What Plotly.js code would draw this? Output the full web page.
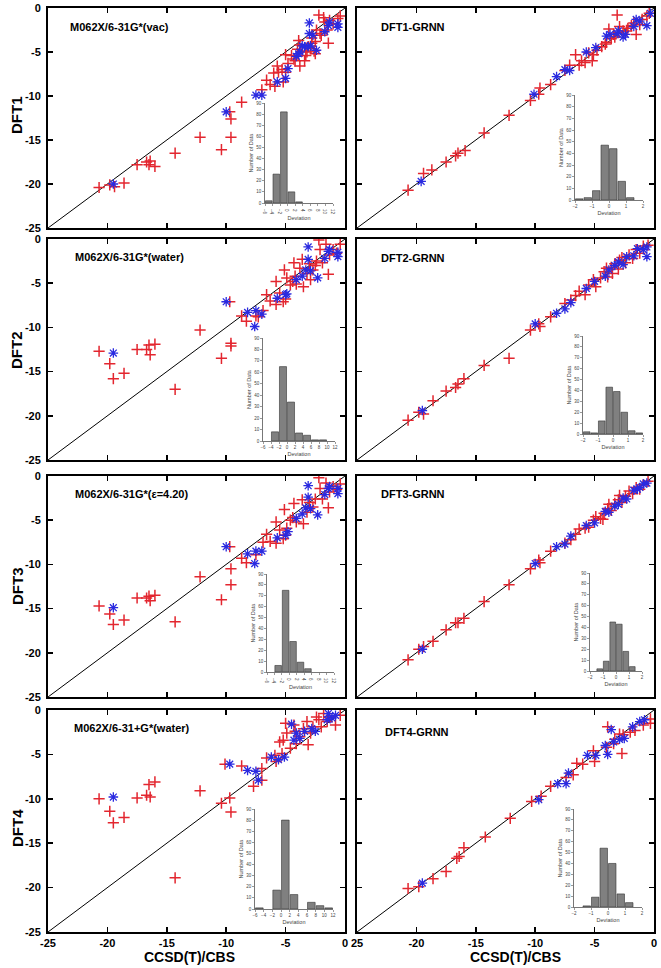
<!DOCTYPE html>
<html><head><meta charset="utf-8">
<script src="https://cdn.plot.ly/plotly-3.0.1.min.js"></script>
<style>html,body{margin:0;padding:0;background:#fff}#chart{width:661px;height:968px}</style>
</head><body><div id="chart"></div>
<script>
// ---------- DATA ----------
const DIAG = [-25, 0];
const MAIN_TICKS = [-25, -20, -15, -10, -5, 0];
const MAIN_TICKTEXT_BR = ['25', '-20', '-15', '-10', '-5', '0'];
const PANEL_LABELS = ['M062X/6-31G*(vac)', 'DFT1-GRNN', 'M062X/6-31G*(water)', 'DFT2-GRNN',
  'M062X/6-31G*(ε=4.20)', 'DFT3-GRNN', 'M062X/6-31+G*(water)', 'DFT4-GRNN'];
const ROW_LABELS = ['DFT1', 'DFT2', 'DFT3', 'DFT4'];
const X_TITLE = 'CCSD(T)/CBS';
const HIST_X_TITLE = 'Deviation';
const HIST_Y_TITLE = 'Number of Data';

// Panel 1: DFT1 (vac)
const p1RedX = [-20.7,-19.8,-19.4,-18.6,-17.5,-16.7,-16.5,-16.4,-16.0,-14.3,-12.2,-10.4,-9.7,-9.6,-9.6,-8.7,-7.0,-6.6,-6.3,-5.9,-6.0,-5.7,-5.6,-5.2,-5.0,-5.3,-5.0,-4.8,-4.5,-4.3,-4.2,-4.0,-3.8,-3.9,-3.8,-3.6,-3.4,-3.3,-3.2,-3.1,-2.8,-2.5,-2.2,-2.4,-2.1,-2.0,-1.8,-1.7,-1.5,-1.4,-1.3,-1.0,-0.6,-0.4,-2.6,-2.9,-2.8,-2.5];
const p1RedY = [-20.4,-20.1,-20.3,-19.9,-17.8,-17.5,-17.8,-17.4,-18.0,-16.5,-14.7,-16.1,-11.8,-12.6,-14.7,-10.7,-9.3,-8.2,-8.7,-8.9,-7.4,-6.6,-7.3,-8.4,-5.3,-7.0,-7.3,-6.3,-5.4,-5.8,-6.0,-4.7,-6.6,-3.7,-4.2,-4.9,-6.0,-5.4,-5.0,-4.4,-3.4,-3.8,-0.8,-2.5,-2.9,-3.1,-1.1,-1.6,-2.5,-4.0,-1.4,-1.8,-1.2,-0.9,-4.9,-4.6,-4.0,-5.2];
const p1BlueX = [-19.5,-10.0,-7.5,-7.0,-5.7,-5.0,-4.8,-4.1,-3.9,-3.8,-3.6,-3.4,-3.1,-2.9,-2.4,-3.0,-3.0,-2.7,-1.7,-1.4,-1.3,-0.6,-0.6];
const p1BlueY = [-20.0,-11.8,-9.9,-9.9,-8.4,-8.0,-6.9,-5.5,-5.2,-5.0,-4.3,-4.4,-4.4,-4.3,-4.8,-1.7,-2.9,-3.1,-2.7,-2.0,-1.6,-1.8,-2.2];
const h1X = [-5, -3, -1, 1, 3];
const h1Y = [2, 26, 82, 10, 1];

// Panel 2: DFT1-GRNN
const p2RedX = [-20.7,-19.4,-18.7,-17.5,-16.7,-16.5,-15.9,-14.3,-12.2,-10.4,-9.7,-9.6,-8.7,-7.5,-7.1,-6.3,-5.8,-6.1,-6.6,-5.2,-5.1,-5.5,-4.8,-4.4,-4.1,-3.8,-3.4,-3.1,-2.9,-2.6,-2.2,-1.5,-1.2,-1.0,-0.6,-0.4,-4.0,-3.6,-3.3,-3.0,-2.3,-1.9,-1.7];
const p2RedY = [-20.7,-18.8,-18.4,-17.5,-16.8,-16.5,-16.2,-14.2,-12.2,-10.5,-9.8,-9.1,-8.7,-7.1,-6.5,-6.5,-6.2,-6.0,-5.3,-6.0,-5.3,-5.1,-4.8,-4.4,-4.1,-2.4,-3.0,-0.8,-2.1,-2.6,-2.3,-3.0,-1.9,-1.3,-0.9,-0.6,-3.9,-3.5,-3.3,-2.8,-2.6,-2.0,-1.7];
const p2BlueX = [-19.6,-10.1,-8.2,-7.5,-7.1,-5.7,-4.9,-4.0,-3.7,-3.1,-3.0,-2.6,-2.4,-1.7,-1.5,-1.2,-0.6,-0.3];
const p2BlueY = [-19.7,-9.8,-7.8,-7.0,-7.1,-5.0,-4.5,-3.2,-3.0,-2.9,-2.6,-3.3,-3.0,-2.1,-1.3,-1.5,-2.0,-0.6];
const h2X = [-1.75, -1.25, -0.75, -0.25, 0.25, 0.75, 1.25];
const h2Y = [1, 2, 8, 47, 44, 16, 2];

// Panel 3: DFT2 (water)
const p3RedX = [-20.7,-19.8,-19.5,-18.6,-17.5,-16.7,-16.5,-16.4,-16.0,-14.3,-12.2,-10.4,-9.7,-9.6,-9.6,-8.7,-8.3,-7.5,-7.3,-6.9,-6.6,-6.3,-5.8,-5.8,-5.5,-5.2,-5.1,-5.0,-4.9,-4.6,-4.3,-4.2,-4.1,-3.8,-3.6,-3.5,-3.2,-2.9,-2.7,-2.4,-2.2,-2.1,-1.9,-1.6,-1.4,-1.3,-1.0,-0.7,-0.4,-4.4,-3.0,-2.5];
const p3RedY = [-12.7,-14.1,-15.8,-15.2,-12.5,-12.5,-12.0,-13.1,-11.9,-17.0,-10.3,-13.5,-7.1,-11.8,-12.1,-8.7,-9.3,-8.7,-8.8,-8.1,-6.3,-7.0,-7.4,-4.8,-6.1,-7.1,-3.5,-6.8,-4.4,-5.2,-2.7,-4.2,-5.1,-3.3,-2.3,-5.4,-3.9,-4.6,-3.5,-2.5,-0.1,-1.2,-2.7,-0.6,-4.0,-1.8,-1.2,-1.6,-0.6,-4.8,-2.8,-3.0];
const p3BlueX = [-19.5,-10.0,-8.2,-7.5,-7.0,-7.6,-5.7,-5.0,-4.9,-4.1,-3.6,-3.3,-3.1,-3.1,-2.9,-2.3,-1.7,-1.4,-1.3,-0.6,-0.6];
const p3BlueY = [-12.9,-7.1,-8.3,-8.1,-8.5,-9.9,-6.7,-6.3,-6.2,-4.6,-4.2,-3.5,-0.9,-2.3,-3.6,-4.4,-2.2,-1.4,-1.2,-1.5,-2.0];
const h3X = [-3, -1, 1, 3, 5, 7, 9];
const h3Y = [8, 65, 34, 7, 5, 1, 1];

// Panel 4: DFT2-GRNN
const p4RedX = [-20.7,-19.8,-19.4,-18.6,-17.5,-16.7,-16.5,-16.0,-14.3,-12.2,-10.4,-9.7,-9.6,-8.7,-7.5,-7.0,-6.6,-6.3,-5.8,-5.5,-5.1,-4.9,-4.5,-4.2,-3.9,-3.6,-3.3,-3.0,-2.7,-2.4,-2.1,-1.8,-1.5,-1.2,-0.9,-0.5,-3.5,-2.9,-4.0];
const p4RedY = [-20.5,-19.6,-19.8,-18.3,-17.2,-16.8,-16.4,-15.8,-14.3,-13.5,-10.3,-9.6,-9.9,-8.8,-7.3,-6.9,-6.4,-5.9,-6.3,-5.2,-4.6,-5.4,-4.4,-3.7,-4.3,-3.2,-2.8,-3.4,-2.1,-2.7,-1.8,-2.2,-1.2,-1.6,-0.8,-0.7,-3.9,-2.4,-3.3];
const p4BlueX = [-19.5,-10.0,-8.2,-7.5,-7.0,-5.7,-5.0,-4.1,-3.8,-3.3,-3.0,-2.6,-2.3,-1.7,-1.4,-0.9,-0.6,-0.6];
const p4BlueY = [-19.4,-9.6,-8.4,-7.9,-7.2,-5.6,-4.8,-4.2,-3.5,-3.0,-2.6,-2.9,-2.0,-1.9,-1.1,-1.2,-0.9,-2.0];
const h4X = [-1.75, -1.25, -0.75, -0.25, 0.25, 0.75, 1.25, 1.75];
const h4Y = [2, 1, 12, 43, 39, 20, 3, 1];

// Panel 5: DFT3 (eps=4.20)
const p5RedX = [-20.7,-19.8,-19.5,-18.6,-17.5,-16.7,-16.5,-16.4,-16.0,-14.3,-12.2,-10.4,-9.7,-9.6,-9.6,-8.7,-8.3,-7.5,-6.9,-6.6,-6.3,-5.8,-5.8,-5.5,-5.2,-5.1,-5.0,-4.9,-4.6,-4.3,-4.1,-3.6,-3.5,-3.2,-2.7,-2.2,-2.1,-1.6,-1.4,-1.3,-1.0,-0.7,-0.4,-2.5,-4.4,-3.0,-1.9];
const p5RedY = [-14.7,-15.6,-16.8,-16.3,-13.8,-13.8,-13.6,-14.1,-13.5,-16.5,-11.4,-14.0,-8.0,-10.5,-12.3,-9.3,-9.8,-8.9,-7.5,-6.6,-7.4,-7.6,-5.2,-6.1,-7.1,-3.8,-6.7,-5.9,-5.0,-3.1,-5.2,-2.7,-5.4,-4.1,-3.5,-0.2,-1.4,-0.8,-3.6,-1.8,-1.2,-1.5,-0.9,-2.6,-4.7,-3.0,-2.6];
const p5BlueX = [-19.5,-10.0,-8.2,-7.5,-7.0,-7.6,-5.7,-5.0,-4.8,-4.1,-3.6,-3.3,-3.1,-3.1,-2.9,-2.3,-1.7,-1.4,-1.3,-0.6,-0.6];
const p5BlueY = [-14.9,-8.0,-8.8,-8.5,-8.5,-9.9,-7.0,-6.7,-6.3,-4.8,-4.3,-3.6,-1.1,-2.4,-3.7,-4.4,-2.1,-1.4,-1.2,-1.4,-2.0];
const h5X = [-3, -1, 1, 3, 5];
const h5Y = [6, 75, 28, 9, 3];

// Panel 6: DFT3-GRNN
const p6RedX = [-20.7,-19.8,-19.4,-18.6,-17.5,-16.7,-16.5,-16.0,-14.3,-12.2,-10.4,-9.7,-9.6,-8.7,-7.5,-7.0,-6.6,-6.3,-5.8,-5.5,-5.1,-4.9,-4.5,-4.2,-3.9,-3.6,-3.3,-3.0,-2.7,-2.4,-2.1,-1.8,-1.5,-1.2,-0.9,-0.5,-2.9,-3.8,-4.3];
const p6RedY = [-20.8,-19.6,-19.3,-18.7,-17.4,-16.6,-16.6,-16.1,-14.2,-12.3,-10.5,-9.5,-9.8,-8.5,-7.6,-7.2,-6.6,-6.0,-5.9,-5.8,-5.0,-4.6,-4.8,-4.2,-3.7,-3.9,-3.1,-2.7,-3.0,-2.3,-1.7,-2.0,-1.3,-1.5,-1.0,-0.6,-2.2,-3.2,-4.9];
const p6BlueX = [-19.5,-10.0,-8.2,-7.5,-7.0,-5.7,-5.0,-4.1,-3.8,-3.3,-3.0,-2.6,-2.3,-1.7,-1.4,-0.9,-0.6,-1.2];
const p6BlueY = [-19.6,-9.9,-8.0,-7.7,-6.8,-5.6,-5.3,-4.0,-4.1,-3.4,-3.2,-2.5,-2.6,-1.6,-1.5,-0.9,-0.8,-1.3];
const h6X = [-1.25, -0.75, -0.25, 0.25, 0.75, 1.25];
const h6Y = [2, 9, 45, 43, 18, 4];

// Panel 7: DFT4 (6-31+G* water)
const p7RedX = [-20.7,-19.8,-19.5,-18.6,-17.5,-16.7,-16.5,-16.4,-16.0,-14.3,-12.2,-10.4,-10.1,-9.7,-9.6,-8.7,-7.7,-7.0,-7.0,-6.6,-5.9,-5.8,-5.5,-5.3,-5.2,-5.0,-4.9,-4.6,-4.3,-4.2,-4.1,-3.8,-3.5,-3.2,-3.1,-2.9,-2.7,-2.4,-2.2,-2.0,-1.8,-1.5,-1.3,-0.8,-0.4];
const p7RedY = [-10.0,-11.4,-12.7,-12.1,-9.9,-9.6,-8.4,-9.8,-8.1,-18.9,-9.1,-10.5,-6.1,-9.9,-11.5,-6.3,-8.6,-7.9,-6.6,-5.4,-5.1,-5.8,-3.6,-4.9,-3.4,-1.5,-2.6,-4.3,-1.7,-2.4,-3.8,-3.0,-2.1,-1.3,-3.9,-2.6,-1.9,-0.8,-1.1,-1.9,-0.4,-1.3,-0.8,-1.7,-0.6];
const p7BlueX = [-19.5,-9.7,-8.2,-7.5,-7.3,-6.2,-5.6,-5.1,-4.5,-4.1,-4.3,-3.8,-3.4,-2.8,-2.5,-1.5,-1.1,-0.8,-1.4];
const p7BlueY = [-9.8,-6.1,-6.8,-6.9,-7.9,-5.3,-5.6,-5.3,-1.6,-2.6,-3.4,-3.2,-2.4,-2.1,-2.4,-1.1,-0.9,-0.6,-0.4];
const h7X = [-5, -1, 1, 3, 7, 9, 11];
const h7Y = [1, 17, 80, 13, 6, 3, 1];

// Panel 8: DFT4-GRNN
const p8RedX = [-20.7,-19.8,-18.6,-17.5,-16.6,-16.4,-16.0,-14.2,-12.1,-10.3,-9.5,-8.7,-7.4,-6.8,-6.5,-6.0,-5.0,-5.1,-4.0,-3.4,-3.3,-2.7,-3.9,-2.9,-2.6,-2.0,-1.6,-0.9,-0.3,-0.3];
const p8RedY = [-20.1,-19.9,-19.0,-18.2,-16.7,-16.5,-15.5,-14.3,-12.2,-10.3,-9.7,-8.6,-7.6,-7.3,-6.0,-6.1,-5.8,-4.6,-4.2,-3.8,-3.3,-4.9,-1.9,-2.7,-2.8,-2.5,-2.3,-1.7,-1.5,-1.0];
const p8BlueX = [-19.5,-9.7,-8.1,-7.4,-7.2,-5.6,-4.9,-3.9,-3.6,-4.1,-3.4,-2.9,-2.5,-1.8,-1.2,-0.8];
const p8BlueY = [-19.5,-10.1,-8.3,-8.3,-7.1,-5.1,-5.1,-5.0,-2.2,-4.0,-3.6,-3.3,-3.2,-1.9,-1.3,-1.1];
const h8X = [-1.25, -0.75, -0.25, 0.25, 0.75, 1.25];
const h8Y = [1, 9, 54, 40, 12, 4];

// ---------- BUILD ----------
const W = 661, H = 968;
const RED = '#e3262f', BLUE = '#2a2ae0';
const fx = p => p / W, fy = p => 1 - p / H;
const ROWS = [[8,228],[239,460],[476,697],[710,932]];
const COLS = [[48,345],[357,654]];
const INSETS = [[265,333,103,203],[575,643,95,200],[263,335,338,441],[583,643,336,434],
                [267,334,574,672],[590,642,573,671],[255,333,809,909],[574,642,809,907]];
const LABEL_POS = [[68,27],[379,27],[73,257],[379,258],[73,494],[379,494],[72,728],[383,732]];

const panels = [
  {rx:p1RedX, ry:p1RedY, bx:p1BlueX, by:p1BlueY, hx:h1X, hy:h1Y, bw:2, hr:[-6,12], hd:2},
  {rx:p2RedX, ry:p2RedY, bx:p2BlueX, by:p2BlueY, hx:h2X, hy:h2Y, bw:0.5, hr:[-2,2], hd:1},
  {rx:p3RedX, ry:p3RedY, bx:p3BlueX, by:p3BlueY, hx:h3X, hy:h3Y, bw:2, hr:[-6,12], hd:2},
  {rx:p4RedX, ry:p4RedY, bx:p4BlueX, by:p4BlueY, hx:h4X, hy:h4Y, bw:0.5, hr:[-2,2], hd:1},
  {rx:p5RedX, ry:p5RedY, bx:p5BlueX, by:p5BlueY, hx:h5X, hy:h5Y, bw:2, hr:[-6,12], hd:2},
  {rx:p6RedX, ry:p6RedY, bx:p6BlueX, by:p6BlueY, hx:h6X, hy:h6Y, bw:0.5, hr:[-2,2], hd:1},
  {rx:p7RedX, ry:p7RedY, bx:p7BlueX, by:p7BlueY, hx:h7X, hy:h7Y, bw:2, hr:[-6,12], hd:2},
  {rx:p8RedX, ry:p8RedY, bx:p8BlueX, by:p8BlueY, hx:h8X, hy:h8Y, bw:0.5, hr:[-2,2], hd:1}
];

const FONT = 'Arial, "Liberation Sans", sans-serif';
const traces = [];
const layout = {
  width: W, height: H, margin: {l:0, r:0, t:0, b:0},
  paper_bgcolor: '#fff', plot_bgcolor: 'rgba(0,0,0,0)',
  showlegend: false, hovermode: false, annotations: [],
  font: {family: FONT, color: '#000'}
};

panels.forEach((p, i) => {
  const k = i + 1, ki = i + 9;
  const row = Math.floor(i / 2), col = i % 2;
  const xa = 'x' + (k === 1 ? '' : k), ya = 'y' + (k === 1 ? '' : k);
  const xi = 'x' + ki, yi = 'y' + ki;
  const mainAx = {
    range: [-25, 0], showline: true, linewidth: 2, linecolor: '#000', mirror: 'ticks',
    ticks: 'inside', ticklen: 5, tickwidth: 1.6, tickcolor: '#000',
    tickmode: 'array', tickvals: MAIN_TICKS, ticklabeloverflow: 'allow',
    tickfont: {family: FONT, size: 11, weight: 'bold', color: '#000'},
    showgrid: false, zeroline: false, fixedrange: true
  };
  layout['xaxis' + (k === 1 ? '' : k)] = Object.assign({}, mainAx, {
    domain: [fx(COLS[col][0]), fx(COLS[col][1])], anchor: ya,
    showticklabels: row === 3,
    ticktext: (row === 3 && col === 1) ? MAIN_TICKTEXT_BR : MAIN_TICKS.map(String)
  });
  layout['yaxis' + (k === 1 ? '' : k)] = Object.assign({}, mainAx, {
    domain: [fy(ROWS[row][1]), fy(ROWS[row][0])], anchor: xa,
    showticklabels: col === 0, ticktext: MAIN_TICKS.map(String), ticklabelstandoff: 3
  });
  const ins = INSETS[i];
  const insAx = {
    showline: true, linewidth: 0.8, linecolor: '#555', ticks: 'outside', ticklen: 2,
    tickwidth: 0.6, tickcolor: '#555', tickfont: {family: FONT, size: 4.5, color: '#444'},
    showgrid: false, zeroline: false, fixedrange: true
  };
  layout['xaxis' + ki] = Object.assign({}, insAx, {
    domain: [fx(ins[0]), fx(ins[1])], anchor: yi, range: p.hr, dtick: p.hd, tick0: 0,
    title: {text: HIST_X_TITLE, font: {family: FONT, size: 5.5, color: '#444'}, standoff: 2}
  });
  layout['yaxis' + ki] = Object.assign({}, insAx, {
    domain: [fy(ins[3]), fy(ins[2])], anchor: xi, range: [0, 90], dtick: 10,
    title: {text: HIST_Y_TITLE, font: {family: FONT, size: 5.5, color: '#444'}, standoff: 2}
  });

  traces.push({x: DIAG, y: DIAG, mode: 'lines', line: {color: '#000', width: 1}, xaxis: xa, yaxis: ya});
  traces.push({x: p.rx, y: p.ry, mode: 'markers', xaxis: xa, yaxis: ya,
    marker: {symbol: 'cross-thin-open', size: 8, color: RED, line: {color: RED, width: 1.5}}});
  traces.push({x: p.bx, y: p.by, mode: 'markers', xaxis: xa, yaxis: ya,
    marker: {symbol: 'asterisk-open', size: 8, color: BLUE, line: {color: BLUE, width: 1.3}}});
  traces.push({type: 'bar', x: p.hx, y: p.hy, width: p.bw * 0.88, xaxis: xi, yaxis: yi,
    marker: {color: '#808080', line: {color: '#333', width: 0.6}}});

  layout.annotations.push({xref: 'paper', yref: 'paper', x: fx(LABEL_POS[i][0]), y: fy(LABEL_POS[i][1]),
    xanchor: 'left', yanchor: 'middle', showarrow: false,
    text: '<b>' + PANEL_LABELS[i] + '</b>', font: {family: FONT, size: 11, color: '#000'}});
});

const ROW_TITLE_Y = [115, 350, 586, 828];
ROW_LABELS.forEach((t, r) => {
  layout.annotations.push({xref: 'paper', yref: 'paper', x: fx(17), y: fy(ROW_TITLE_Y[r]),
    xanchor: 'center', yanchor: 'middle', textangle: -90, showarrow: false,
    text: '<b>' + t + '</b>', font: {family: FONT, size: 15, color: '#000'}});
});
[190, 515].forEach(cx => {
  layout.annotations.push({xref: 'paper', yref: 'paper', x: fx(cx), y: fy(957),
    xanchor: 'center', yanchor: 'middle', showarrow: false,
    text: '<b>' + X_TITLE + '</b>', font: {family: FONT, size: 14, color: '#000'}});
});

Plotly.newPlot('chart', traces, layout, {staticPlot: true, displayModeBar: false});
</script>
</body></html>
